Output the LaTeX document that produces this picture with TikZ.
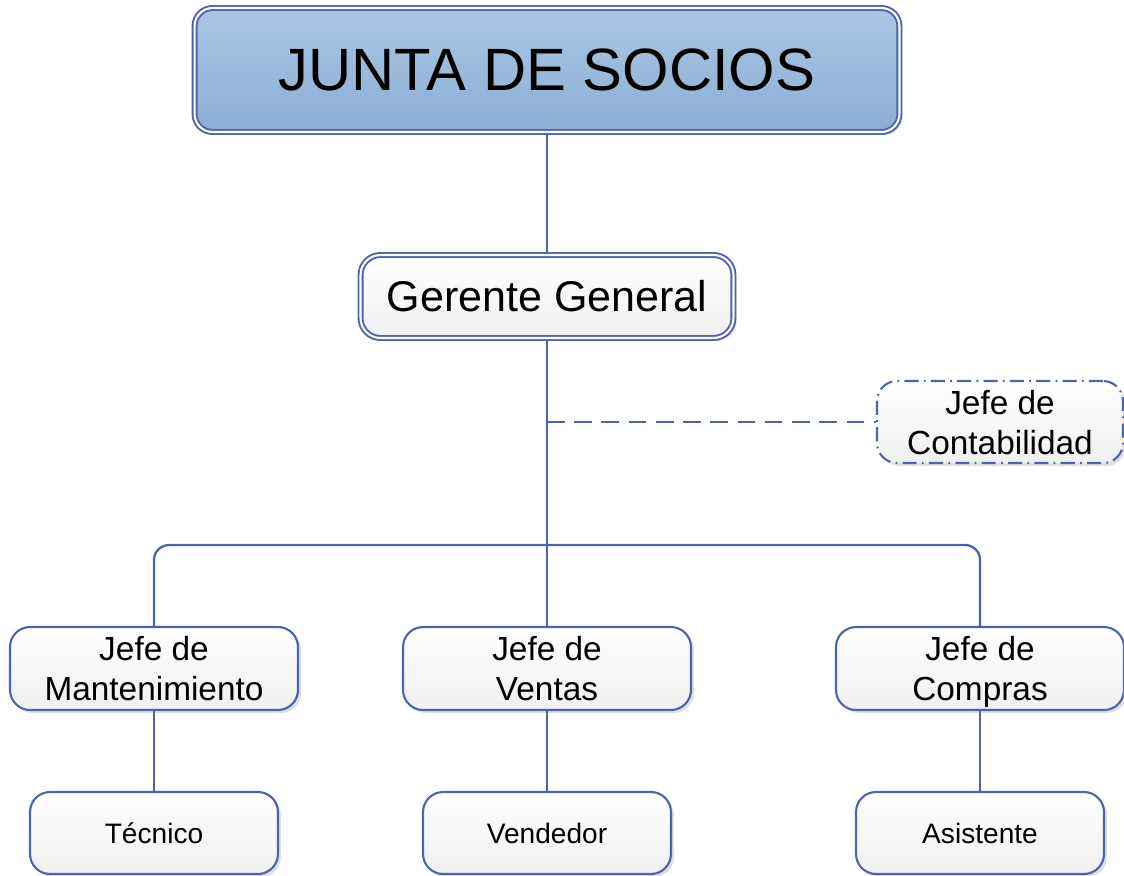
\documentclass[tikz,border=0pt]{standalone}
\usepackage{fontspec}
\setmainfont{Liberation Sans}
\usetikzlibrary{positioning,shadows}
\definecolor{lineblue}{RGB}{78,98,180}
\definecolor{topblue}{RGB}{170,198,226}
\definecolor{botblue}{RGB}{140,174,212}
\newcommand{\jefede}[1]{Jefe de\\\raisebox{0pt}[\height][0pt]{#1}}

\begin{document}
\begin{tikzpicture}[x=0.02cm,y=-0.02cm,
	box/.style={draw=lineblue,line width=1.2pt,rounded corners=0.4cm,top color=white,bottom color=black!6,
		drop shadow={shadow xshift=0.06cm,shadow yshift=-0.06cm,opacity=0.25},align=center,inner sep=0pt},
	jefe/.style={box,minimum width=5.76cm,minimum height=1.66cm,font=\fontsize{19}{22.7}\selectfont},
	worker/.style={box,minimum width=4.96cm,minimum height=1.64cm,font=\fontsize{16}{19}\selectfont},
	conn/.style={draw=lineblue,line width=1.3pt}]
	\useasboundingbox (0,0) rectangle (1124,875);
	\node[box,minimum width=14.1cm,minimum height=2.48cm,rounded corners=0.36cm,top color=topblue,bottom color=botblue,
		double=white,double distance=1.2pt,line width=1.1pt,font=\fontsize{34}{40}\selectfont] (junta) at (547,70) {JUNTA DE SOCIOS};
	\node[box,minimum width=7.46cm,minimum height=1.66cm,double=white,double distance=1.2pt,line width=1.1pt,
		font=\fontsize{24.5}{29}\selectfont] (gerente) at (547,296.5) {Gerente General};
	\node[jefe,minimum width=4.92cm,minimum height=1.64cm,dash pattern=on 8pt off 3pt on 1pt off 3pt] (conta) at (1000,422) {\jefede{Contabilidad}};
	\node[jefe] (mant) at (154,668.5) {\jefede{Mantenimiento}};
	\node[jefe] (ventas) at (547,668.5) {\jefede{Ventas}};
	\node[jefe] (compras) at (980,668.5) {\jefede{Compras}};
	\node[worker] (tecnico) at (154,833) {Técnico};
	\node[worker] (vendedor) at (547,833) {Vendedor};
	\node[worker] (asistente) at (980,833) {Asistente};
	\coordinate (bus) at (547,545);
	\coordinate (tap) at (547,422);
	\draw[conn] (junta) -- (gerente);
	\draw[conn] (gerente) -- (ventas);
	\draw[conn,rounded corners=0.3cm] (mant.north) |- (bus) -| (compras.north);
	\draw[conn,dash pattern=on 10pt off 5.5pt] (tap) -- (conta.west);
	\draw[conn] (mant) -- (tecnico);
	\draw[conn] (ventas) -- (vendedor);
	\draw[conn] (compras) -- (asistente);
\end{tikzpicture}
\end{document}
